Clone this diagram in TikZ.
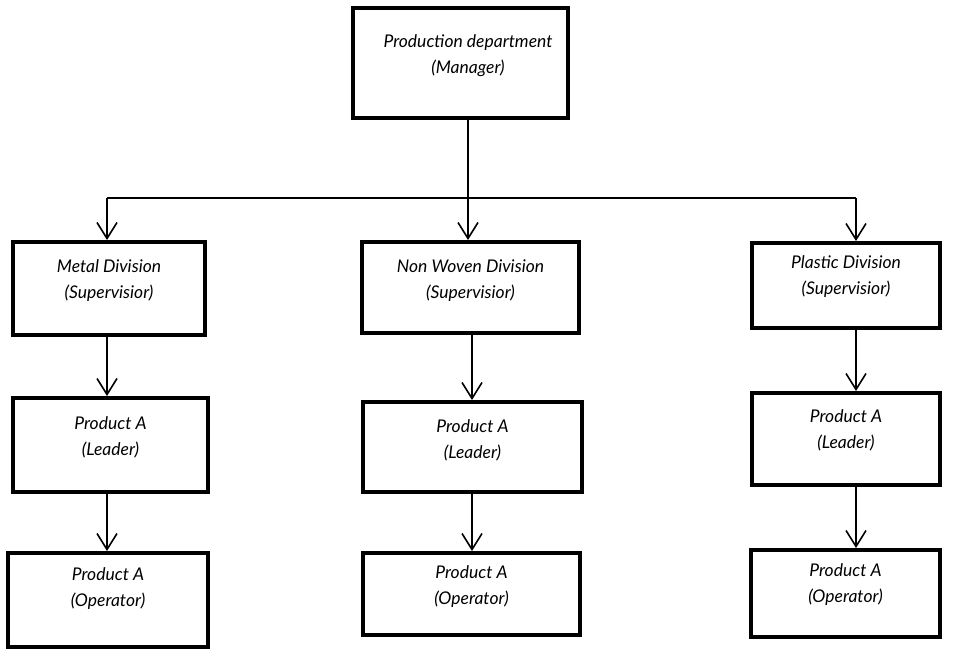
\documentclass[tikz,border=0pt]{standalone}
\usepackage{fontspec}
\setmainfont{Lato}
\usetikzlibrary{arrows.meta}
\begin{document}
\begin{tikzpicture}[x=1pt,y=-1pt,
  box/.style={draw, line width=4pt, inner sep=0pt},
  txt/.style={font=\itshape\fontsize{17.5}{26}\selectfont, align=center},
  conn/.style={line width=1.6pt},
  arr/.style={line width=1.6pt, -{Straight Barb[length=16pt,width=20pt,line width=1.6pt]}}]
\useasboundingbox[fill=white] (0,0) rectangle (953,649);
% boxes
\node[box, minimum width=215, minimum height=110] (top) at (460.5,63) {};
\node[box, minimum width=192, minimum height=93] (metal) at (109,288.5) {};
\node[box, minimum width=217, minimum height=91] (nonwoven) at (470.5,287.5) {};
\node[box, minimum width=188, minimum height=85] (plastic) at (846,285.5) {};
\node[box, minimum width=195, minimum height=94] (leadL) at (110.5,445) {};
\node[box, minimum width=219, minimum height=90] (leadM) at (472.5,447) {};
\node[box, minimum width=188, minimum height=92] (leadR) at (846,439) {};
\node[box, minimum width=200, minimum height=94] (opL) at (108,600) {};
\node[box, minimum width=217, minimum height=82] (opM) at (471.5,594) {};
\node[box, minimum width=189, minimum height=87] (opR) at (845.5,593.5) {};
% texts
\node[txt] (ttop) at (468,56) {Production department\\(Manager)};
\node[txt] (tmetal) at (109,281) {Metal Division\\(Supervisior)};
\node[txt] (tnonwoven) at (470.5,281) {Non Woven Division\\(Supervisior)};
\node[txt] (tplastic) at (846,277) {Plastic Division\\(Supervisior)};
\node[txt] (tleadL) at (110.5,437) {Product A\\(Leader)};
\node[txt] (tleadM) at (472.5,440) {Product A\\(Leader)};
\node[txt] (tleadR) at (846,430) {Product A\\(Leader)};
\node[txt] (topL) at (108,589) {Product A\\(Operator)};
\node[txt] (topM) at (471.5,587) {Product A\\(Operator)};
\node[txt] (topR) at (845.5,585) {Product A\\(Operator)};
% columns and bus
\coordinate (cL) at (107,198);
\coordinate (cM) at (468,198);
\coordinate (cR) at (856,198);
\draw[conn] (cM |- top.south) -- (cM);
\draw[conn] (cL) -- (cR);
\draw[arr] (cL) -- (cL |- metal.north);
\draw[arr] (cM) -- (cM |- nonwoven.north);
\draw[arr] (cR) -- (cR |- plastic.north);
\draw[arr] (cL |- metal.south) -- (cL |- leadL.north);
\draw[arr] (cL |- leadL.south) -- (cL |- opL.north);
\draw[arr] ([xshift=4pt]cM |- nonwoven.south) -- ([xshift=4pt]cM |- leadM.north);
\draw[arr] ([xshift=4pt]cM |- leadM.south) -- ([xshift=4pt]cM |- opM.north);
\draw[arr] (cR |- plastic.south) -- (cR |- leadR.north);
\draw[arr] (cR |- leadR.south) -- (cR |- opR.north);
\end{tikzpicture}
\end{document}
